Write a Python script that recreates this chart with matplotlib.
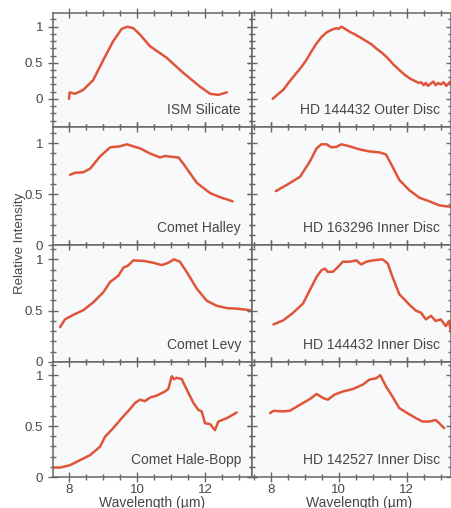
import matplotlib
matplotlib.use("Agg")
import matplotlib.pyplot as plt
from matplotlib.ticker import MultipleLocator, FuncFormatter

plt.rcParams['font.family'] = ['Liberation Sans', 'DejaVu Sans']

# ---------------- data ----------------
ism_x = [8.0, 8.02, 8.18, 8.42, 8.71, 9.01, 9.30, 9.55, 9.72, 9.89, 10.09, 10.38, 10.87,
         11.36, 11.85, 12.15, 12.39, 12.64]
ism_y = [0.0, 0.09, 0.07, 0.125, 0.26, 0.54, 0.80, 0.97, 1.0, 0.98, 0.89, 0.73, 0.57,
         0.36, 0.17, 0.07, 0.055, 0.09]

out_x = [8.06, 8.2, 8.37, 8.55, 8.76, 8.9, 9.05, 9.2, 9.35, 9.5, 9.64, 9.8, 9.93, 10.0,
         10.08, 10.15, 10.32, 10.45, 10.6, 10.81, 10.95, 11.1, 11.29, 11.45, 11.6, 11.78,
         11.95, 12.1, 12.27, 12.35, 12.42, 12.5, 12.56, 12.62, 12.7, 12.78, 12.85, 12.92,
         13.0, 13.08, 13.16, 13.24, 13.32]
out_y = [0.0, 0.06, 0.125, 0.24, 0.36, 0.44, 0.54, 0.66, 0.77, 0.86, 0.92, 0.96, 0.98, 0.97,
         1.0, 0.98, 0.93, 0.90, 0.86, 0.80, 0.76, 0.70, 0.63, 0.56, 0.48, 0.40,
         0.33, 0.28, 0.24, 0.22, 0.23, 0.19, 0.22, 0.18, 0.21, 0.24, 0.19, 0.22,
         0.20, 0.23, 0.18, 0.22, 0.25]

halley_x = [8.03, 8.18, 8.42, 8.62, 8.91, 9.21, 9.5, 9.70, 9.89, 10.09, 10.38, 10.68, 10.82,
            11.22, 11.36, 11.76, 12.15, 12.44, 12.81]
halley_y = [0.69, 0.71, 0.715, 0.75, 0.87, 0.96, 0.97, 0.99, 0.97, 0.95, 0.90, 0.86, 0.875,
            0.86, 0.80, 0.61, 0.51, 0.47, 0.43]

hd163_x = [8.15, 8.47, 8.86, 9.15, 9.35, 9.49, 9.64, 9.78, 9.93, 10.08, 10.32, 10.61, 10.90,
           11.20, 11.39, 11.58, 11.78, 12.07, 12.37, 12.66, 12.95, 13.29]
hd163_y = [0.53, 0.59, 0.67, 0.82, 0.95, 0.99, 0.99, 0.96, 0.965, 0.99, 0.97, 0.94, 0.92,
           0.91, 0.89, 0.77, 0.64, 0.54, 0.465, 0.43, 0.39, 0.375]

levy_x = [7.74, 7.88, 8.13, 8.42, 8.71, 9.01, 9.21, 9.45, 9.60, 9.74, 9.89, 10.19, 10.48,
          10.73, 10.92, 11.09, 11.26, 11.46, 11.76, 12.05, 12.34, 12.64, 12.93, 13.32, 13.4]
levy_y = [0.34, 0.415, 0.46, 0.505, 0.58, 0.68, 0.78, 0.84, 0.92, 0.94, 0.99, 0.985, 0.967,
          0.944, 0.967, 1.0, 0.977, 0.878, 0.713, 0.597, 0.548, 0.525, 0.52, 0.505, 0.50]

hd144i_x = [8.08, 8.37, 8.66, 8.95, 9.15, 9.35, 9.49, 9.59, 9.68, 9.83, 9.98, 10.12, 10.32,
            10.52, 10.66, 10.81, 11.0, 11.29, 11.44, 11.58, 11.78, 11.93, 12.07, 12.27,
            12.42, 12.56, 12.71, 12.85, 13.0, 13.15, 13.24, 13.29]
hd144i_y = [0.366, 0.406, 0.48, 0.57, 0.70, 0.83, 0.894, 0.91, 0.878, 0.88, 0.927, 0.977,
            0.977, 0.99, 0.95, 0.977, 0.99, 1.0, 0.96, 0.83, 0.66, 0.61, 0.56, 0.50,
            0.48, 0.415, 0.45, 0.40, 0.415, 0.35, 0.40, 0.307]

hale_x = [7.44, 7.74, 8.03, 8.32, 8.62, 8.91, 9.06, 9.30, 9.55, 9.79, 9.94, 10.09, 10.23,
          10.38, 10.58, 10.82, 10.92, 11.02, 11.09, 11.16, 11.31, 11.46, 11.66, 11.80,
          11.90, 12.0, 12.15, 12.29, 12.39, 12.64, 12.93]
hale_y = [0.093, 0.093, 0.116, 0.165, 0.215, 0.297, 0.396, 0.48, 0.578, 0.667, 0.727, 0.76,
          0.745, 0.78, 0.80, 0.84, 0.865, 0.99, 0.96, 0.975, 0.964, 0.86, 0.727, 0.66,
          0.645, 0.528, 0.52, 0.46, 0.545, 0.578, 0.634]

hd142_x = [7.98, 8.08, 8.37, 8.56, 8.86, 9.15, 9.35, 9.54, 9.68, 9.88, 10.12, 10.42, 10.71,
           10.90, 11.10, 11.22, 11.39, 11.58, 11.78, 12.02, 12.27, 12.46, 12.66, 12.85,
           12.95, 13.1]
hd142_y = [0.627, 0.65, 0.645, 0.65, 0.71, 0.766, 0.816, 0.776, 0.76, 0.81, 0.84, 0.865,
           0.908, 0.957, 0.97, 1.0, 0.89, 0.79, 0.677, 0.627, 0.578, 0.545, 0.545, 0.56,
           0.53, 0.48]

labels = [["ISM Silicate", "HD 144432 Outer Disc"],
          ["Comet Halley", "HD 163296 Inner Disc"],
          ["Comet Levy", "HD 144432 Inner Disc"],
          ["Comet Hale-Bopp", "HD 142527 Inner Disc"]]
series = [[(ism_x, ism_y), (out_x, out_y)],
          [(halley_x, halley_y), (hd163_x, hd163_y)],
          [(levy_x, levy_y), (hd144i_x, hd144i_y)],
          [(hale_x, hale_y), (hd142_x, hd142_y)]]
row_ylims = [(-0.39, 1.19), (0, 1.16), (0, 1.14), (0, 1.13)]
x_ticks = [8, 10, 12]
xlabel = "Wavelength (µm)"
ylabel = "Relative Intensity"

# ---------------- layout ----------------
W, H = 452, 508
fig = plt.figure(figsize=(W / 100, H / 100), dpi=100)
fig.patch.set_facecolor('white')

row_edges = [(13, 127), (127, 245), (245, 362), (362, 477)]
col_edges = [(53, 252), (252, 451)]
col_xlims = [(7.53, 13.38), (7.45, 13.3)]

line_col = '#e0553a'
spine_col = '#666666'
text_col = '#474747'
fs = 9.5

fmt = FuncFormatter(lambda v, p: '%g' % v)

for r, (top, bot) in enumerate(row_edges):
    for c, (left, right) in enumerate(col_edges):
        ax = fig.add_axes([left / W, 1 - bot / H, (right - left) / W, (bot - top) / H])
        ax.set_facecolor('#f8f9fa')
        xs, ys = series[r][c]
        ax.plot(xs, ys, color=line_col, lw=1.8, solid_capstyle='round',
                solid_joinstyle='round')
        ax.set_xlim(*col_xlims[c])
        ax.set_ylim(*row_ylims[r])
        ax.set_xticks(x_ticks)
        ax.xaxis.set_minor_locator(MultipleLocator(0.5))
        ax.yaxis.set_major_locator(MultipleLocator(0.5))
        ax.yaxis.set_minor_locator(MultipleLocator(0.1))
        ax.yaxis.set_major_formatter(fmt)
        for s in ax.spines.values():
            s.set_color(spine_col)
            s.set_linewidth(1.1)
        ax.tick_params(which='both', direction='inout', top=True, bottom=True,
                       left=True, right=True, colors=spine_col,
                       labelcolor=text_col, labelsize=fs, width=1.0)
        ax.tick_params(which='major', length=7)
        ax.tick_params(which='minor', length=4)
        ax.tick_params(axis='x', which='major', pad=1.5)
        ax.tick_params(labelleft=(c == 0), labelbottom=(r == 3))
        ax.annotate(labels[r][c], xy=(1, 0), xycoords='axes fraction',
                    xytext=(-11, 13), textcoords='offset pixels',
                    ha='right', va='baseline', fontsize=fs + 0.5, color=text_col)
        if r == 3:
            ax.set_xlabel(xlabel, fontsize=fs + 0.5, color=text_col)
            ax.xaxis.set_label_coords(0.54 if c == 1 else 0.5, -0.165)

fig.text(20 / W, 1 - 243 / H, ylabel, rotation=90, ha='center', va='center',
         fontsize=fs, color=text_col)

fig.savefig('out.png', dpi=100, facecolor='white')
